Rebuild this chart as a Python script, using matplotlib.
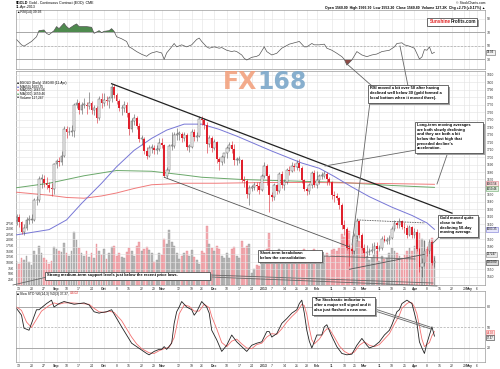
import numpy as np
import pandas as pd
import matplotlib
matplotlib.use('Agg')
import matplotlib.pyplot as plt
from matplotlib.patches import Rectangle

plt.rcParams['font.family'] = ['Liberation Sans', 'DejaVu Sans']

# trading days shown (Aug 10 2012 .. Apr 11 2013 + empty future space to May 9)
holidays = ['2012-09-03', '2012-11-22', '2012-12-25', '2013-01-01',
            '2013-01-21', '2013-02-18', '2013-03-29']
dates = pd.bdate_range('2012-08-10', '2013-05-09').drop(pd.to_datetime(holidays))

opens = [1614, 1620, 1613, 1600, 1605, 1616, 1616, 1616, 1642, 1643,
         1671, 1671, 1665, 1663, 1658, 1657, 1691, 1695, 1694, 1702,
         1738, 1733, 1734, 1735, 1770, 1772, 1763, 1770, 1770, 1768,
         1772, 1763, 1765, 1752, 1778, 1772, 1776, 1775, 1779, 1794,
         1783, 1775, 1765, 1765, 1770, 1759, 1737, 1748, 1752, 1742,
         1724, 1724, 1708, 1701, 1712, 1712, 1709, 1711, 1719, 1716,
         1675, 1683, 1715, 1715, 1730, 1731, 1731, 1725, 1730, 1714,
         1714, 1734, 1727, 1728, 1751, 1749, 1743, 1717, 1726, 1712,
         1720, 1697, 1694, 1700, 1705, 1712, 1716, 1711, 1696, 1696,
         1696, 1669, 1668, 1650, 1658, 1660, 1662, 1661, 1656, 1675,
         1688, 1675, 1649, 1646, 1662, 1655, 1677, 1662, 1667, 1683,
         1682, 1688, 1687, 1692, 1685, 1669, 1657, 1655, 1662, 1679,
         1663, 1669, 1675, 1675, 1677, 1671, 1667, 1649, 1648, 1645,
         1636, 1609, 1604, 1578, 1577, 1574, 1594, 1615, 1596, 1578,
         1572, 1573, 1574, 1576, 1581, 1577, 1579, 1591, 1588, 1589,
         1592, 1604, 1612, 1609, 1614, 1607, 1605, 1596, 1606, 1596,
         1600, 1577, 1553, 1558, 1575, 1574, 1586, 1558]
highs = [1624, 1624, 1615, 1610, 1620, 1623, 1624, 1645, 1648, 1675,
         1678, 1676, 1673, 1667, 1665, 1692, 1698, 1700, 1708, 1742,
         1741, 1740, 1743, 1772, 1778, 1775, 1773, 1779, 1774, 1787,
         1775, 1770, 1768, 1781, 1785, 1786, 1782, 1782, 1798, 1798,
         1786, 1777, 1770, 1775, 1773, 1760, 1752, 1757, 1755, 1745,
         1729, 1727, 1713, 1716, 1718, 1716, 1716, 1725, 1726, 1718,
         1687, 1718, 1733, 1733, 1739, 1735, 1734, 1734, 1732, 1718,
         1737, 1738, 1733, 1755, 1755, 1752, 1747, 1730, 1728, 1724,
         1722, 1700, 1703, 1706, 1715, 1720, 1722, 1718, 1700, 1701,
         1698, 1675, 1671, 1663, 1662, 1666, 1667, 1666, 1677, 1694,
         1691, 1677, 1653, 1665, 1664, 1680, 1681, 1670, 1686, 1688,
         1693, 1692, 1696, 1697, 1688, 1671, 1660, 1665, 1682, 1683,
         1681, 1678, 1680, 1682, 1680, 1674, 1668, 1654, 1652, 1647,
         1638, 1616, 1606, 1584, 1584, 1598, 1619, 1616, 1599, 1584,
         1583, 1578, 1585, 1587, 1586, 1583, 1595, 1596, 1593, 1596,
         1608, 1616, 1615, 1618, 1616, 1613, 1609, 1609, 1608, 1605,
         1604, 1580, 1565, 1589, 1581, 1590, 1588, 1567]
lows = [1609, 1606, 1597, 1596, 1603, 1610, 1612, 1614, 1636, 1640,
        1659, 1660, 1657, 1653, 1648, 1651, 1685, 1688, 1690, 1700,
        1725, 1729, 1728, 1727, 1765, 1758, 1757, 1765, 1758, 1764,
        1757, 1756, 1745, 1749, 1766, 1768, 1769, 1766, 1774, 1779,
        1771, 1762, 1756, 1760, 1754, 1729, 1733, 1743, 1737, 1720,
        1716, 1704, 1697, 1700, 1706, 1704, 1704, 1708, 1712, 1673,
        1672, 1680, 1710, 1712, 1723, 1723, 1720, 1721, 1710, 1707,
        1712, 1721, 1722, 1727, 1743, 1738, 1705, 1714, 1707, 1710,
        1692, 1683, 1690, 1692, 1699, 1708, 1706, 1690, 1689, 1692,
        1666, 1660, 1645, 1636, 1654, 1656, 1655, 1651, 1654, 1672,
        1662, 1626, 1641, 1643, 1650, 1652, 1658, 1656, 1664, 1676,
        1680, 1681, 1683, 1682, 1665, 1654, 1649, 1651, 1658, 1660,
        1658, 1664, 1670, 1672, 1663, 1662, 1644, 1640, 1642, 1631,
        1604, 1596, 1576, 1554, 1570, 1570, 1588, 1592, 1576, 1565,
        1567, 1569, 1572, 1570, 1563, 1574, 1576, 1586, 1584, 1584,
        1590, 1601, 1605, 1605, 1604, 1598, 1592, 1594, 1592, 1592,
        1574, 1546, 1540, 1554, 1568, 1571, 1556, 1553]
closes = [1620, 1613, 1600, 1605, 1616, 1616, 1616, 1642, 1643, 1671,
          1671, 1665, 1663, 1658, 1657, 1691, 1695, 1694, 1702, 1738,
          1733, 1734, 1735, 1770, 1772, 1763, 1770, 1770, 1768, 1772,
          1763, 1765, 1752, 1778, 1772, 1776, 1775, 1779, 1794, 1783,
          1775, 1765, 1765, 1770, 1759, 1737, 1748, 1752, 1742, 1724,
          1724, 1708, 1701, 1712, 1712, 1709, 1711, 1719, 1716, 1675,
          1683, 1715, 1715, 1730, 1731, 1731, 1725, 1730, 1714, 1714,
          1734, 1727, 1728, 1751, 1749, 1743, 1717, 1726, 1712, 1720,
          1697, 1694, 1700, 1705, 1712, 1716, 1711, 1696, 1696, 1696,
          1669, 1668, 1650, 1658, 1660, 1662, 1661, 1656, 1675, 1688,
          1675, 1649, 1646, 1662, 1655, 1677, 1662, 1667, 1683, 1682,
          1688, 1687, 1692, 1685, 1669, 1657, 1655, 1662, 1679, 1663,
          1669, 1675, 1675, 1677, 1671, 1667, 1649, 1648, 1645, 1636,
          1609, 1604, 1578, 1577, 1574, 1594, 1615, 1596, 1578, 1572,
          1573, 1574, 1576, 1581, 1577, 1579, 1591, 1588, 1589, 1592,
          1604, 1612, 1609, 1614, 1607, 1605, 1596, 1606, 1596, 1600,
          1577, 1553, 1558, 1575, 1574, 1586, 1558, 1561]
# volume in thousands of contracts
volume = [105, 95, 120, 110, 130, 100, 90, 150, 135, 175,
          140, 120, 110, 95, 105, 170, 160, 150, 145, 185,
          140, 130, 150, 235, 200, 165, 140, 130, 150, 125,
          140, 120, 180, 150, 135, 160, 115, 140, 170, 175,
          130, 140, 125, 120, 145, 165, 150, 130, 175, 190,
          150, 160, 170, 155, 140, 100, 110, 140, 135, 205,
          180, 245, 190, 175, 140, 115, 130, 140, 150, 130,
          155, 125, 110, 95, 150, 140, 260, 180, 165, 150,
          175, 160, 130, 120, 140, 120, 160, 170, 130, 120,
          195, 165, 175, 180, 55, 70, 90, 85, 110, 150,
          160, 230, 140, 120, 125, 160, 150, 120, 150, 130,
          140, 110, 130, 120, 145, 160, 120, 115, 150, 160,
          140, 120, 110, 130, 140, 125, 155, 160, 150, 165,
          225, 215, 235, 240, 170, 185, 245, 195, 175, 160,
          130, 110, 120, 135, 150, 105, 130, 115, 120, 140,
          165, 150, 140, 130, 120, 135, 150, 165, 150, 175,
          200, 230, 205, 195, 160, 180, 210, 127]

# moving averages read at sample bars (bar number, value)
ma50_day = [0, 13, 20, 26, 34, 40, 47, 54, 60, 67, 74, 81, 88, 95, 102, 108,
            114, 121, 127, 134, 141, 150, 158, 164, 167]
ma50 = [1596, 1603, 1616, 1638, 1665, 1687, 1709, 1725, 1736, 1744, 1744, 1737,
        1728, 1718, 1708, 1700, 1692, 1685, 1674, 1660, 1647, 1633, 1622, 1612, 1603.35]
ma200_day = [0, 13, 20, 27, 34, 40, 47, 54, 67, 80, 100, 120, 140, 167]
ma200 = [1653, 1649, 1646, 1645, 1648, 1652, 1658, 1663, 1665, 1665, 1666, 1666,
         1665, 1663.56]
ma300_day = [0, 13, 27, 40, 54, 67, 74, 90, 110, 130, 150, 167]
ma300 = [1659, 1665, 1675, 1682, 1681, 1676, 1673, 1670, 1668, 1666, 1662, 1659.46]

rsi_day = [0, 2, 3, 6, 8, 9, 11, 12, 13, 15, 16, 17, 18, 19, 20, 21, 23, 24, 25, 28,
           30, 31, 33, 34, 35, 37, 38, 39, 40, 42, 44, 45, 46, 48, 50, 52, 53, 54, 56, 58,
           59, 60, 62, 63, 64, 66, 68, 70, 72, 73, 74, 76, 77, 79, 81, 82, 84, 86, 87, 88,
           90, 91, 92, 94, 96, 97, 99, 100, 102, 104, 106, 107, 109, 111, 113, 115, 116,
           118, 119, 121, 123, 124, 126, 128, 130, 131, 132, 134, 136, 138, 140, 142, 144,
           146, 149, 151, 152, 154, 155, 157, 159, 160, 161, 162, 163, 164, 165, 166, 167]
rsi_val = [59, 51, 49, 56, 63, 72, 73, 68, 66, 72, 78, 75, 79, 83, 78, 75, 80, 82, 78, 78,
           77, 68, 72, 69, 71, 72, 75, 71, 63, 60, 56, 48, 46, 41, 37, 34, 37, 39, 41, 39,
           29.5, 39, 48, 53, 48, 51, 48, 51, 59, 61, 56, 48, 46, 48, 46, 47, 43, 41, 42, 41,
           36, 31, 28.5, 32.5, 34, 36, 48, 41, 36, 38.5, 46, 48, 52, 54, 56, 48, 48,
           53, 51, 51, 52, 46, 43, 38.5, 33.5, 29.5, 21, 28.5, 41, 36, 33.5, 36, 37.4,
           41, 43, 48, 53, 54, 51, 49, 46, 38, 30, 33, 44, 43, 48, 38, 39.93]

k_day = [0, 2, 3, 5, 7, 8, 9, 12, 14, 15, 17, 19, 23, 27, 29, 31, 33, 34, 36, 38,
         42, 44, 46, 48, 52, 53, 55, 57, 58, 59, 60, 62, 63, 64, 65, 66, 68, 70, 71, 72,
         74, 76, 77, 78, 80, 82, 84, 86, 88, 90, 92, 94, 96, 98, 100, 101, 102, 104, 106,
         108, 110, 112, 113, 114, 115, 116, 117, 118, 119, 120, 122, 123, 124, 126, 128,
         130, 132, 134, 136, 138, 140, 141, 143, 145, 147, 149, 150, 152, 153, 154, 156,
         158, 159, 160, 161, 162, 163, 164, 166, 167]
k_val = [78, 68, 49, 46, 66, 76, 76, 85, 90, 80, 85, 88, 84, 86, 83, 73, 71, 72, 73, 76,
         51, 39, 27, 22, 12, 10, 15, 18, 18, 22, 18, 27, 56, 73, 80, 88, 80, 76, 68, 73,
         88, 80, 71, 46, 32, 15, 24, 39, 29, 22, 15, 24, 27, 29, 44, 44, 36, 41, 56,
         63, 71, 76, 85, 90, 71, 46, 30, 20, 29, 39, 39, 51, 54, 37, 22,
         12, 10, 11, 24, 34, 24, 20, 23, 29, 39, 46, 54, 73, 76, 85, 90,
         85, 71, 56, 29, 20, 12, 27, 51, 37.37]
d_day = [0, 2, 4, 6, 8, 10, 13, 15, 17, 19, 22, 26, 29, 31, 33, 35, 37, 39, 42, 44,
         46, 48, 50, 53, 55, 57, 59, 61, 63, 64, 65, 67, 69, 71, 73, 75, 77, 78, 80, 82,
         84, 86, 88, 90, 92, 94, 96, 98, 100, 102, 104, 106, 108, 110, 112, 113, 114, 115,
         116, 117, 118, 119, 121, 123, 124, 125, 127, 129, 131, 133, 135, 137, 139, 141,
         143, 145, 147, 149, 151, 153, 154, 156, 157, 158, 159, 160, 161, 162, 163, 165,
         166, 167]
d_val = [80, 75, 58, 50, 62, 74, 82, 86, 84, 86, 86, 85, 84, 78, 73, 72, 74, 72, 60, 48,
         36, 26, 19, 13, 12, 16, 19, 21, 35, 52, 70, 83, 81, 74, 74, 84, 79, 66, 48, 28,
         22, 30, 33, 26, 20, 19, 25, 27, 36, 41, 40, 48, 58, 66, 73, 78, 84, 82,
         69, 49, 32, 26, 33, 44, 48, 48, 36, 23, 15, 11, 14, 24, 29, 24,
         22, 25, 33, 41, 55, 68, 78, 85, 87, 86, 80, 70, 52, 33, 22, 28,
         38, 44.02]

tick_dates = ['2012-08-13', '2012-08-20', '2012-08-27', '2012-09-04', '2012-09-10',
              '2012-09-17', '2012-09-24', '2012-10-01', '2012-10-08', '2012-10-15',
              '2012-10-22', '2012-10-29', '2012-11-01', '2012-11-12', '2012-11-19',
              '2012-11-26', '2012-12-03', '2012-12-10', '2012-12-17', '2012-12-24',
              '2013-01-02', '2013-01-07', '2013-01-14', '2013-01-21', '2013-01-28',
              '2013-02-01', '2013-02-11', '2013-02-18', '2013-02-25', '2013-03-01',
              '2013-03-11', '2013-03-18', '2013-03-25', '2013-04-01', '2013-04-08',
              '2013-04-15', '2013-04-22', '2013-04-29', '2013-05-01', '2013-05-06']
tick_labels = ['13', '20', '27', 'Sep', '10', '17', '24', 'Oct', '8', '15',
               '22', '29', 'Nov', '12', '19', '26', 'Dec', '10', '17', '24',
               '2013', '7', '14', '21', '28', 'Feb', '11', '18', '25', 'Mar',
               '11', '18', '25', 'Apr', '8', '15', '22', '29', 'May', '6']
price_ticks = [1540, 1550, 1580, 1590, 1610, 1620, 1630, 1640, 1650, 1670, 1680,
               1690, 1700, 1710, 1720, 1730, 1740, 1750, 1760, 1770, 1780, 1790,
               1800, 1810]

tick_idx = dates.get_indexer(pd.to_datetime(tick_dates), method='bfill')
x = np.arange(len(closes))
o = np.array(opens, float)
h = np.array(highs, float)
lo = np.array(lows, float)
c = np.array(closes, float)
up = c >= o

fig = plt.figure(figsize=(5, 3.69), dpi=100)
L, W = 16 / 500, 469 / 500


def rect(top, bottom):
    return [L, 1 - bottom / 369, W, (bottom - top) / 369]


GRID = '#e2e2e2'
FS = 2.5


def style(a):
    for s in a.spines.values():
        s.set_color('#9a9a9a')
        s.set_linewidth(0.5)
    a.set_xlim(-0.2, len(dates) - 0.8)
    a.set_xticks(tick_idx)
    a.tick_params(length=0, labelsize=FS, pad=1.2, colors='#333333')
    a.grid(axis='x', color=GRID, lw=0.4)
    a.set_axisbelow(True)


def bold_months(a):
    for tl in a.get_xticklabels():
        if not tl.get_text().isdigit() or tl.get_text() == '2013':
            tl.set_fontweight('bold')


def tag(a, y, s, fc, ec, tc='black', fs=2.1):
    a.text(1.004, y, s, transform=a.get_yaxis_transform(), fontsize=fs, color=tc,
           va='center', ha='left', clip_on=False, zorder=10,
           bbox=dict(boxstyle='square,pad=0.2', fc=fc, ec=ec, lw=0.4))


# ---------------- RSI ----------------
ax_rsi = fig.add_axes(rect(10, 69))
style(ax_rsi)
ax_rsi.set_ylim(15.2, 102.6)
ax_rsi.tick_params(labelbottom=False)
ax_rsi.yaxis.tick_right()
ax_rsi.set_yticks([30, 50, 70, 90])
ax_rsi.grid(axis='y', color=GRID, lw=0.4)
ax_rsi.axhline(70, color='#a8a8a8', lw=0.7)
ax_rsi.axhline(30, color='#a8a8a8', lw=0.7)
ax_rsi.axhline(50, color='#a8a8a8', lw=0.5, ls=(0, (3, 2)))
rv = np.array(rsi_val)
ax_rsi.fill_between(rsi_day, rv, 70, where=rv >= 70, interpolate=True, color='#4e8a4e', lw=0)
ax_rsi.fill_between(rsi_day, rv, 30, where=rv <= 30, interpolate=True, color='#8e4b46', lw=0)
ax_rsi.plot(rsi_day, rsi_val, color='#555555', lw=0.5)
tag(ax_rsi, rsi_val[-1], '39.93', '#f2f2f2', '#666666')

# ---------------- price + volume ----------------
ax_vol = fig.add_axes(rect(71, 285))
style(ax_vol)
ax_vol.set_ylim(0, 950)
ax_vol.set_yticks(np.arange(25, 276, 25))
ax_vol.set_yticklabels([f'{v}K' for v in range(25, 276, 25)])
ax_vol.set_xticklabels(tick_labels)
bold_months(ax_vol)
ax_vol.bar(x, volume, width=0.72,
           color=np.where(up, '#b9b9b9', '#f3aeb3'),
           edgecolor=np.where(up, '#8f8f8f', '#e27f87'), lw=0.25)

ax = fig.add_axes(rect(71, 285), sharex=ax_vol)
ax.patch.set_visible(False)
for s in ax.spines.values():
    s.set_visible(False)
ax.set_ylim(1529, 1815)
ax.yaxis.tick_right()
ax.set_yticks(price_ticks)
ax.tick_params(length=0, labelsize=2.3, pad=1.2, colors='#333333', labelbottom=False)
ax.grid(axis='y', color=GRID, lw=0.4)
for gy in (1560, 1570, 1600, 1660):
    ax.axhline(gy, color=GRID, lw=0.4, zorder=0)

ax.plot(ma300_day, ma300, color='#6aa86a', lw=0.7)
ax.plot(ma200_day, ma200, color='#f07b7b', lw=0.7)
ax.plot(ma50_day, ma50, color='#7777d6', lw=0.7)

wick_col = np.where(up, '#555555', '#d8202c')
ax.vlines(x, lo, h, color=wick_col, lw=0.4, zorder=3)
body = np.maximum(np.abs(c - o), 0.8)
ax.bar(x[up], body[up], bottom=o[up], width=0.7, facecolor='white',
       edgecolor='#555555', lw=0.35, zorder=4)
ax.bar(x[~up], body[~up], bottom=c[~up], width=0.7, color='#e0202c', lw=0, zorder=4)

# trend lines drawn by the analyst
ax.plot([38, 174], [1798, 1625], color='#222222', lw=0.9, zorder=5)
ax.plot([59, 133], [1673, 1580], color='#555555', lw=0.6, zorder=5)
ax.plot([136, 163], [1616, 1612], color='#333333', lw=0.6, ls=(0, (1, 1)), zorder=5)
ax.plot([133, 163], [1550, 1570], color='#555555', lw=0.6, zorder=5)

tag(ax, ma200[-1] + 1, '1663.56', '#fbe0e0', '#e27f87')
tag(ax, ma300[-1] - 1.5, '1659.46', '#e0f0e0', '#6aa86a')
tag(ax, ma50[-1], '1603.35', '#e6e6fa', '#7777d6')
tag(ax, 1570, '127247', '#e8e8e8', '#888888')
tag(ax, c[-1] - 1.5, '1560.80', '#d9d9d9', '#333333')

# ---------------- stochastic ----------------
ax_sto = fig.add_axes(rect(291, 362))
style(ax_sto)
ax_sto.set_ylim(-0.5, 103.4)
ax_sto.yaxis.tick_right()
ax_sto.set_yticks([20, 50, 80])
ax_sto.set_xticklabels(tick_labels)
bold_months(ax_sto)
ax_sto.axhline(80, color='#a8a8a8', lw=0.7)
ax_sto.axhline(20, color='#a8a8a8', lw=0.7)
ax_sto.axhline(50, color='#a8a8a8', lw=0.5, ls=(0, (3, 2)))
ax_sto.plot(d_day, d_val, color='#f27070', lw=0.6)
ax_sto.plot(k_day, k_val, color='#222222', lw=0.6)
tag(ax_sto, 42.5, '44.02', '#fbe0e0', '#f27070', '#d02020', fs=1.9)
tag(ax_sto, 35, '37.37', '#eeeeee', '#333333', fs=1.9)

# ---------------- overlay: headers, legend, call-outs ----------------
ov = fig.add_axes([0, 0, 1, 1], zorder=20)
ov.set_xlim(0, 500)
ov.set_ylim(369, 0)
ov.axis('off')


def t(xp, yp, s, **kw):
    kw.setdefault('fontsize', 2.6)
    kw.setdefault('va', 'center')
    return ov.text(xp, yp, s, **kw)


t(16, 3, '$GOLD', fontweight='bold')
t(29, 3, 'Gold - Continuous Contract (EOD)  CME')
t(16, 7, '11-Apr-2013')
t(17, 11.5, '\u25b2RSI(14) 39.93', fontsize=2.4)
t(485, 3, '\u00a9 StockCharts.com', ha='right', fontsize=2.4)
t(485, 7.5, 'Open 1560.00  High 1566.30  Low 1553.20  Close 1560.80  Volume 127.2K  '
  'Chg +2.70 (+0.17%) \u25b2', ha='right', fontweight='bold', fontsize=2.5)

legend_rows = [('#222222', '$GOLD (Daily) 1560.80 (11-Apr)'),
               ('#7777d6', 'MA(50) 1603.35'),
               ('#f07b7b', 'MA(200) 1663.56'),
               ('#6aa86a', 'MA(300) 1659.46'),
               ('#555555', 'Volume 127,247')]
for k, (col, lab) in enumerate(legend_rows):
    yy = 83 + k * 3.6
    t(17, yy, '\u25a0', color=col, fontsize=2.4)
    t(20, yy, lab, fontsize=2.3)

sto_head = t(17, 293.5, '\u25a0 Slow STO %K(14,3) %D(3) 37.37,', fontsize=2.3)
ov.annotate(' 44.02', xy=(1, 0.5), xycoords=sto_head, va='center', ha='left',
            fontsize=2.3, color='#e02020')

# FX168 watermark
ov.text(257, 82, 'FX', ha='right', va='center', fontsize=17, fontweight='bold',
        color='#f29d78', alpha=0.85, family='DejaVu Sans')
ov.text(257, 82, '168', ha='left', va='center', fontsize=17, fontweight='bold',
        color='#7ba7c9', alpha=0.9, family='DejaVu Sans')


def box(x0, y0, x1, y1):
    ov.add_patch(Rectangle((x0 + 1.5, y0 + 1.5), x1 - x0, y1 - y0, fc='#a0a0a0',
                           ec='none', zorder=6))
    ov.add_patch(Rectangle((x0, y0), x1 - x0, y1 - y0, fc='white', ec='#333333',
                           lw=0.5, zorder=7))


def callout(x0, y0, x1, y1, text):
    box(x0, y0, x1, y1)
    ov.text(x0 + 2, y0 + 1.3, text, fontsize=2.9, fontweight='bold', va='top',
            ha='left', linespacing=1.2, zorder=8)


def pointer(x0, y0, x1, y1):
    ov.plot([x0, x1], [y0, y1], color='#666666', lw=0.6, zorder=5)


# Sunshine Profits logo
box(427, 18, 477, 25.5)
sun = ov.text(430, 21.8, 'Sunshine', color='#e02020', fontsize=3.3, fontweight='bold',
              va='center', zorder=8)
ov.annotate('Profits.com', xy=(1, 0.5), xycoords=sun, va='center', ha='left',
            color='#222222', fontsize=3.3, fontweight='bold', zorder=8)

pointer(372, 86, 347, 64)
pointer(408, 86, 400, 46)
pointer(370, 102, 352, 245)
callout(368, 85, 448, 103, 'RSI moved a bit over 50 after having\n'
        'declined well below 30 (gold formed a\n'
        'local bottom when it moved there).')

pointer(416, 150, 325, 166)
pointer(448, 152, 437, 184)
callout(415, 122, 483, 153, 'Long-term moving averages\nare both slowly declining\n'
        'and they are both a bit\nbelow the last high that\npreceded decline\'s\n'
        'acceleration.')

pointer(440, 236, 432, 244)
callout(438, 215, 478, 237, 'Gold moved quite\nclose to the\ndeclining 50-day\n'
        'moving average.')

pointer(322, 256, 415, 259)
callout(258, 250, 322, 262, 'Short-term breakdown\nbelow the consolidation')

pointer(47, 277, 13, 285)
pointer(210, 275, 433, 283)
pointer(210, 277, 437, 286)
callout(45, 272, 210, 279.5, 'Strong medium-term support levels just below the '
        'recent price lows.')

pointer(375, 309, 430, 327)
pointer(375, 311, 431, 329)
callout(312, 297, 375, 315, 'The Stochastic indicator is\nafter a major sell signal and it\n'
        'also just flashed a new one.')

fig.savefig('out.png', dpi=100)
